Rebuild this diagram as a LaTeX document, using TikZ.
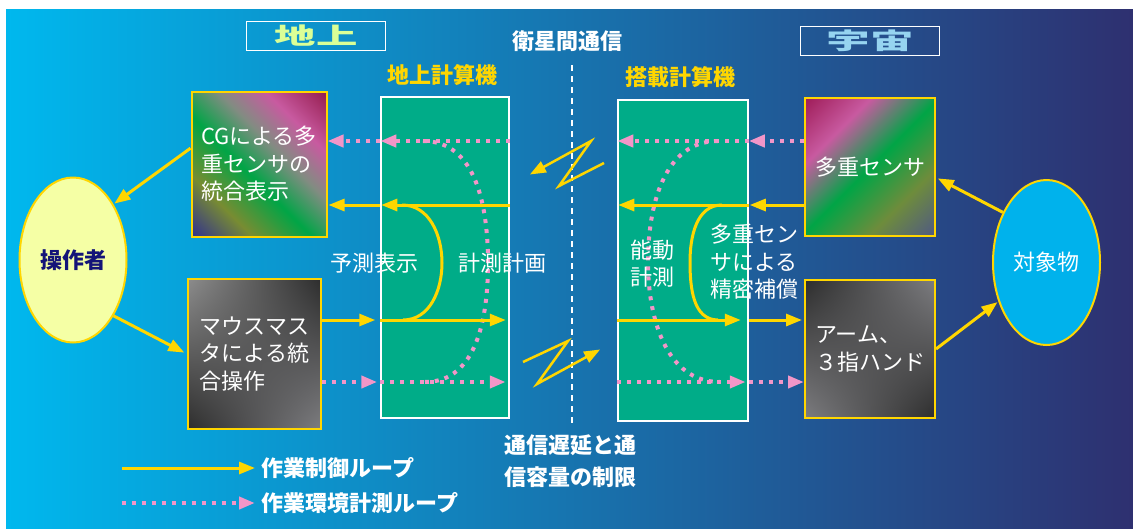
\documentclass[tikz,border=0pt]{standalone}
\usepackage{fontspec}
\usepackage{graphicx}
\newfontfamily\cjk{Noto Sans CJK JP}
\usetikzlibrary{arrows.meta,shapes.geometric,shadings}

\definecolor{skyleft}{RGB}{0,184,238}
\definecolor{skymid}{RGB}{16,112,172}
\definecolor{skyright}{RGB}{46,48,112}
\definecolor{panelgreen}{RGB}{0,172,136}
\definecolor{ctrlyellow}{RGB}{255,214,0}
\definecolor{measpink}{RGB}{242,150,200}
\definecolor{opfill}{RGB}{245,255,165}
\definecolor{opnavy}{RGB}{20,20,120}
\definecolor{objblue}{RGB}{0,178,236}
\definecolor{groundtxt}{RGB}{218,255,150}
\definecolor{spacetxt}{RGB}{150,212,240}
% colours of the picture boxes
\definecolor{cgA}{RGB}{50,50,140}
\definecolor{cgB}{RGB}{120,140,50}
\definecolor{cgC}{RGB}{0,165,70}
\definecolor{cgD}{RGB}{130,140,130}
\definecolor{cgE}{RGB}{200,90,160}
\definecolor{cgF}{RGB}{150,30,80}
\definecolor{snA}{RGB}{160,30,90}
\definecolor{snB}{RGB}{200,90,160}
\definecolor{snC}{RGB}{0,165,70}
\definecolor{snD}{RGB}{110,140,60}
\definecolor{snE}{RGB}{80,90,130}
\definecolor{grayA}{RGB}{140,140,140}
\definecolor{grayB}{RGB}{45,45,45}
\definecolor{grayC}{RGB}{125,125,128}

\pgfdeclarehorizontalshading{cgshade}{100bp}{color(0bp)=(cgA); color(15bp)=(cgA); color(30bp)=(cgB);
  color(45bp)=(cgC); color(58bp)=(cgD); color(70bp)=(cgE); color(85bp)=(cgF); color(100bp)=(cgF)}
\pgfdeclarehorizontalshading{sensorshade}{100bp}{color(0bp)=(snA); color(15bp)=(snA); color(32bp)=(snB);
  color(50bp)=(snC); color(68bp)=(snD); color(85bp)=(snE); color(100bp)=(snE)}

\begin{document}
\begin{tikzpicture}[x=1pt,y=-1pt,
  every node/.style={font=\cjk\fontsize{22}{27.5}\selectfont, text=white},
  heading/.style={font=\cjk\bfseries\fontsize{22}{27.5}\selectfont},
  panel/.style={draw=white, line width=1.5pt, fill=panelgreen, minimum width=128pt, minimum height=321pt, inner sep=0pt},
  viewbox/.style={draw=ctrlyellow, line width=2pt, align=left, inner sep=0pt},
  titlebox/.style={draw=white, line width=1pt, minimum width=139pt, minimum height=29pt, inner sep=0pt,
    font=\cjk\bfseries\fontsize{23}{27}\selectfont},
  actor/.style={ellipse, draw=ctrlyellow, line width=2pt, minimum width=107pt, minimum height=165pt, inner sep=0pt},
  ctrl/.style={draw=ctrlyellow, line width=3pt, -{Triangle[length=16pt,width=12pt]}, shorten >=1pt},
  meas/.style={draw=measpink, line width=4pt, dash pattern=on 4pt off 6pt, -{Triangle[length=16pt,width=12pt]}},
  ctrlcurve/.style={draw=ctrlyellow, line width=3pt},
  meascurve/.style={draw=measpink, line width=4pt, dash pattern=on 4pt off 6pt}
]
\useasboundingbox (0,0) rectangle (1133,528);
\fill[white] (0,0) rectangle (1133,528);
\shade[left color=skyleft, middle color=skymid, right color=skyright] (6,9) rectangle (1133,528);

% headings
\node[titlebox, text=groundtxt] (groundtitle) at (316,36) {\scalebox{1.8}[1]{地上}};
\node[titlebox, text=spacetxt] (spacetitle) at (870,40.5) {\scalebox{1.9}[1]{宇宙}};
\node[heading] (satlink) at (567,41) {衛星間通信};
\node[heading, text=ctrlyellow] (gcomptitle) at (442,75) {地上計算機};
\node[heading, text=ctrlyellow] (ocomptitle) at (680,77) {搭載計算機};
\draw[white, line width=2.5pt, dash pattern=on 6pt off 5pt] (572,65) -- (572,424);

% computers
\node[panel] (gcomp) at (445,257.5) {};
\node[panel, minimum width=130pt] (ocomp) at (683,260.5) {};

% picture boxes
\node[viewbox, minimum width=135pt, minimum height=145pt, shading=cgshade, shading angle=45] (cg) at (259,164)
  {CGによる多\\重センサの\\統合表示};
\node[viewbox, minimum width=133pt, minimum height=150pt, upper left=grayA, upper right=grayB,
  lower left=grayB, lower right=grayC] (mouse) at (254.5,354) {マウスマス\\タによる統\\合操作};
\node[viewbox, minimum width=130pt, minimum height=138pt, shading=sensorshade, shading angle=-45] (sensor)
  at (870,167) {多重センサ};
\node[viewbox, minimum width=130pt, minimum height=138pt, upper left=grayB, upper right=grayC,
  lower left=grayC, lower right=grayB] (arm) at (870,349) {アーム、\\３指ハンド};

% operator and object
\node[actor, fill=opfill, text=opnavy, heading] (op) at (73,260) {操作者};
\node[actor, fill=objblue] (obj) at (1046.5,262.5) {対象物};

\draw[ctrl] (cg.167) -- (op.54);
\draw[ctrl, shorten >=3pt] (op.-54) -- (mouse.west);
\draw[ctrl, shorten >=2pt] (obj.131) -- (sensor.-9);
\draw[ctrl] (arm.east) -- (obj.219);

% loop rows
\coordinate (rowA) at (0,141);
\coordinate (rowB) at (0,205);
\coordinate (rowC) at (0,320);
\coordinate (rowD) at (0,382);

% ground computer
\draw[meascurve] (423,141) to[out=0,in=90] (488,263) to[out=-90,in=0] (425,382);
\draw[ctrlcurve] (403,320) to[out=0,in=-90] (442,263) to[out=90,in=0] (402,205);
\draw[meas] (gcomp.east |- rowA) -- (gcomp.west |- rowA);
\draw[meas] (gcomp.west |- rowA) -- (cg.east |- rowA);
\draw[ctrl] (gcomp.east |- rowB) -- (gcomp.west |- rowB);
\draw[ctrl] (gcomp.west |- rowB) -- (cg.east |- rowB);
\draw[ctrl, shorten >=5pt] (mouse.east |- rowC) -- (gcomp.west |- rowC);
\draw[ctrl, shorten >=4pt] (gcomp.west |- rowC) -- (gcomp.east |- rowC);
\draw[meas, shorten >=3pt] (mouse.east |- rowD) -- (gcomp.west |- rowD);
\draw[meas, shorten >=4pt] (gcomp.west |- rowD) -- (gcomp.east |- rowD);
\node (predict) at (374,263) {予測表示};
\node (plan) at (502.5,263) {計測計画};

% onboard computer
\draw[meascurve] (718,141) to[out=180,in=90] (648,262) to[out=-90,in=180] (720,382);
\draw[ctrlcurve] (722,205) to[out=180,in=90] (690,262) to[out=-90,in=180] (718,320);
\draw[meas] (sensor.west |- rowA) -- (ocomp.east |- rowA);
\draw[meas] (ocomp.east |- rowA) -- (ocomp.west |- rowA);
\draw[ctrl] (sensor.west |- rowB) -- (ocomp.east |- rowB);
\draw[ctrl] (ocomp.east |- rowB) -- (ocomp.west |- rowB);
\draw[ctrl, shorten >=8pt] (ocomp.west |- rowC) -- (ocomp.east |- rowC);
\draw[ctrl, shorten >=2pt] (ocomp.east |- rowC) -- (arm.west |- rowC);
\draw[meas, shorten >=3pt] (ocomp.west |- rowD) -- (ocomp.east |- rowD);
\draw[meas] (ocomp.east |- rowD) -- (arm.west |- rowD);
\node[align=center] (active) at (652.5,263.5) {能動\\計測};
\node[align=left] (comp) at (754.5,262) {多重セン\\サによる\\精密補償};

% link between computers
\draw[ctrl, line width=2.5pt] (604,163) -- (559,186) -- (591,141) -- (529,175);
\draw[ctrl, line width=2.5pt] (523,362) -- (568,341) -- (537,384) -- (601,349);
\node[heading, align=left, font=\cjk\bfseries\fontsize{22}{32}\selectfont] (delay) at (570.5,461)
  {通信遅延と通\\信容量の制限};

% legend
\node[heading, anchor=west] (lgctrl) at (258,468) {作業制御ループ};
\node[heading, anchor=west] (lgmeas) at (258,503) {作業環境計測ループ};
\coordinate (lgctrlfrom) at (122,468);
\coordinate (lgmeasfrom) at (122,503);
\draw[ctrl, shorten >=3pt] (lgctrlfrom) -- (lgctrl.west);
\draw[meas, shorten >=3pt] (lgmeasfrom) -- (lgmeas.west);
\end{tikzpicture}
\end{document}
